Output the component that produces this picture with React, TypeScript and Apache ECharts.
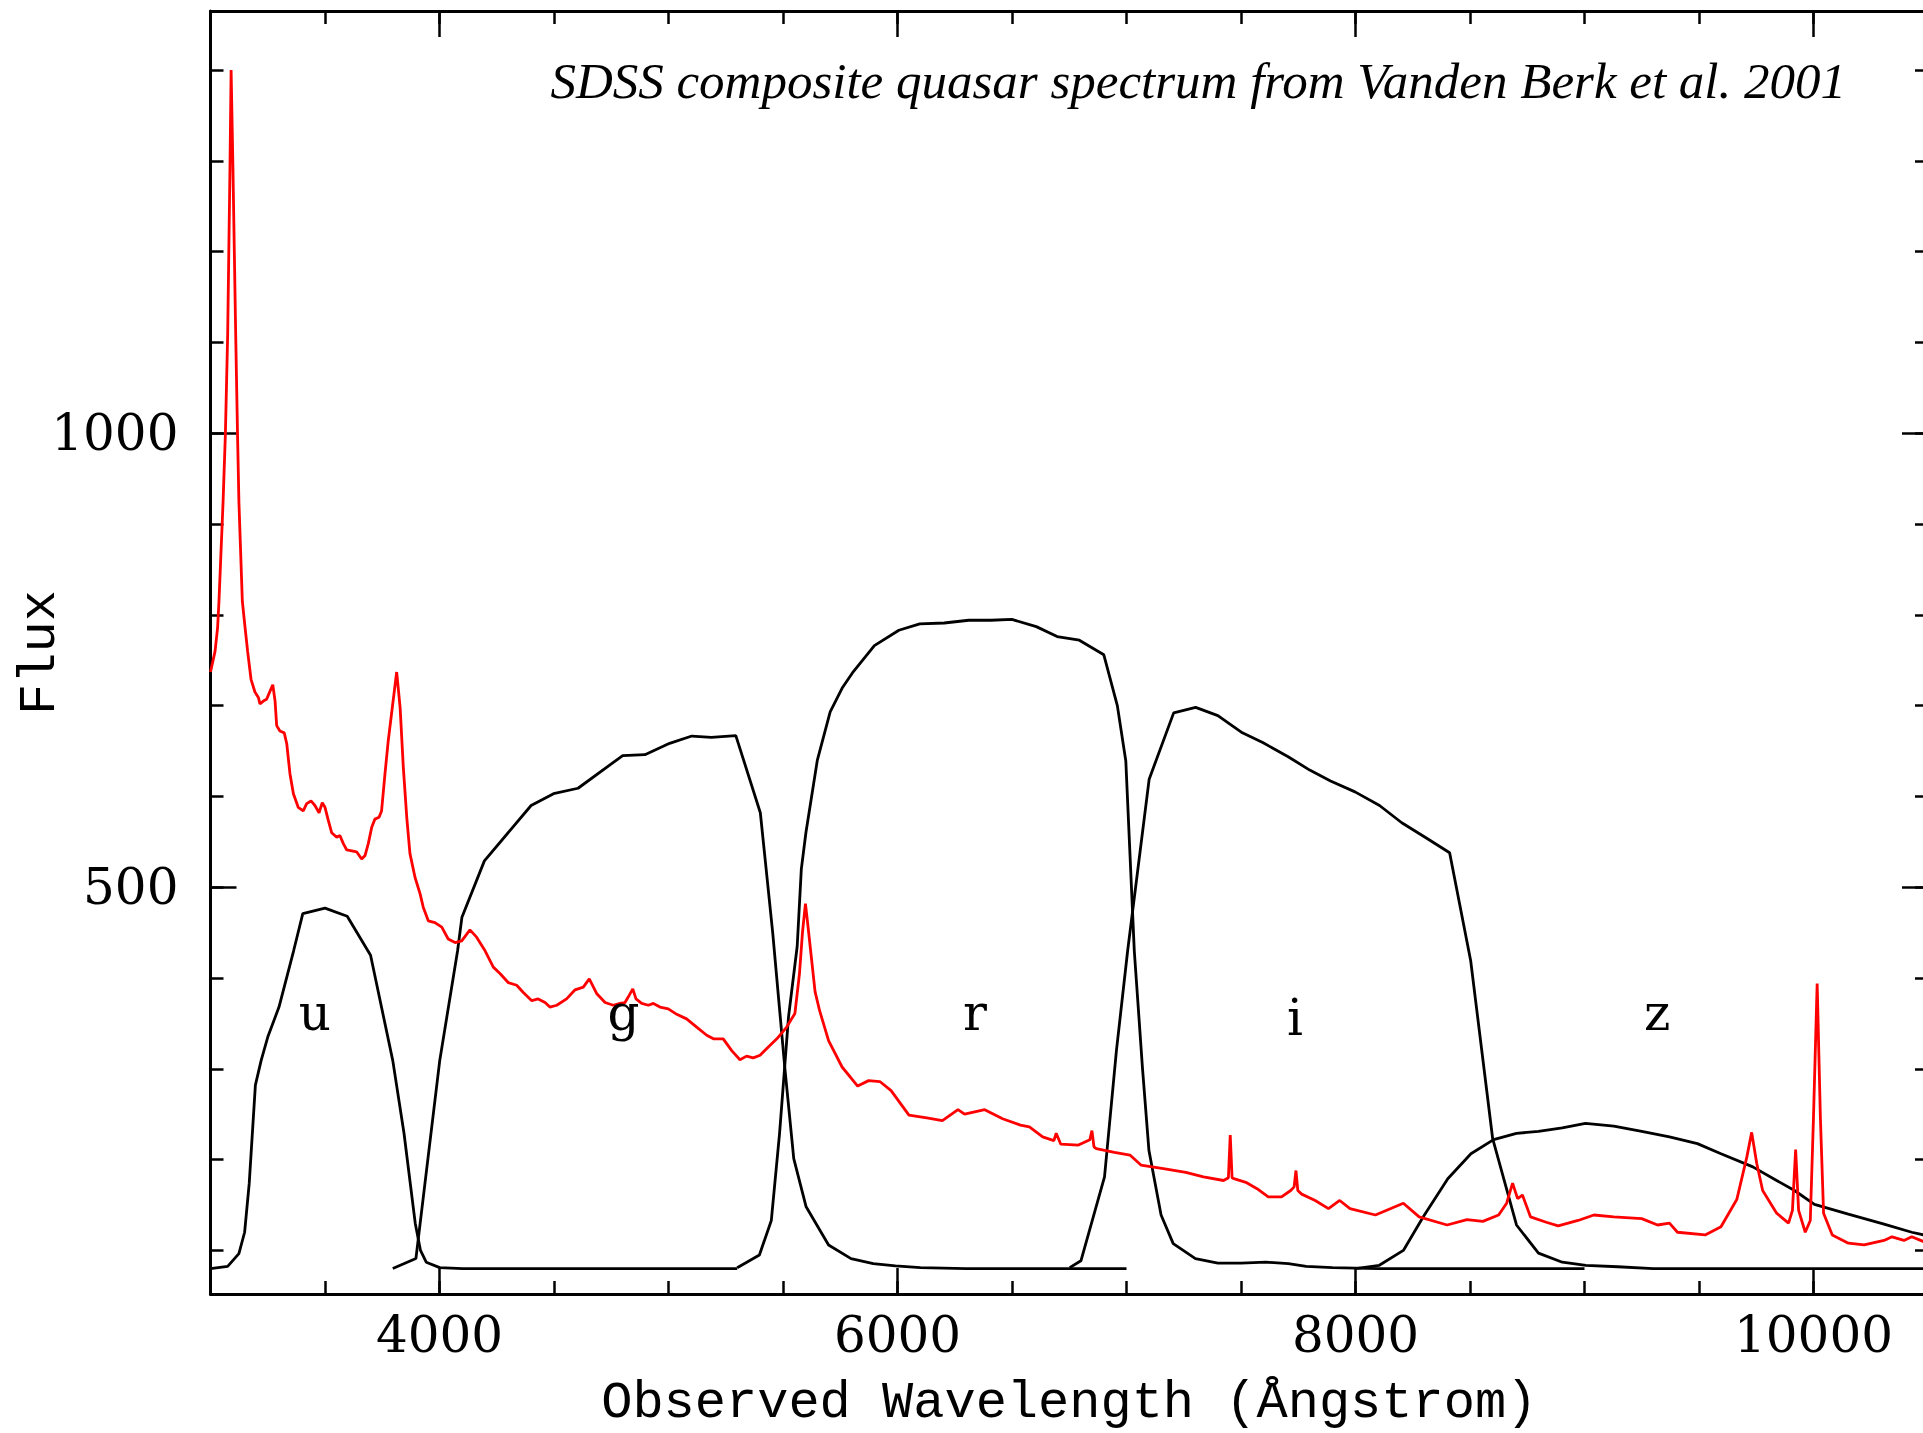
import React, { useEffect, useRef } from "react";
import * as echarts from "echarts";

// ---------- data ----------
const X_MIN = 3000;
const X_MAX = 10500;
const Y_MIN = 52;
const Y_MAX = 1465;

const xMajorTicks = [4000, 6000, 8000, 10000];
const xMinorTicks = [3500, 4000, 4500, 5000, 5500, 6000, 6500, 7000, 7500, 8000, 8500, 9000, 9500, 10000];
const yMajorTicks = [500, 1000];
const yMinorTicks = [100, 200, 300, 400, 500, 600, 700, 800, 900, 1000, 1100, 1200, 1300, 1400];

// composite quasar spectrum [wavelength, flux]
const spectrum = [
  [3000, 737], [3020, 760], [3031, 786], [3037, 815], [3055, 925], [3065, 999], [3075, 1109], [3085, 1292],
  [3090, 1400], [3098, 1292], [3110, 1109], [3118, 999], [3124, 925], [3139, 815], [3151, 786], [3162, 760],
  [3177, 729], [3194, 715], [3209, 709], [3216, 702], [3231, 705], [3245, 707], [3260, 716], [3272, 723],
  [3282, 705], [3289, 678], [3303, 672], [3322, 670], [3333, 658], [3347, 625], [3362, 603], [3383, 588],
  [3405, 584], [3420, 592], [3439, 595], [3456, 590], [3474, 582], [3488, 593], [3500, 588], [3515, 573],
  [3529, 560], [3551, 555], [3565, 557], [3580, 548], [3595, 541], [3617, 540], [3638, 539], [3660, 531],
  [3675, 535], [3689, 548], [3704, 566], [3718, 575], [3736, 577], [3747, 584], [3762, 625], [3776, 661],
  [3794, 698], [3813, 737], [3828, 698], [3842, 632], [3857, 577], [3871, 537], [3893, 511], [3915, 493],
  [3929, 478], [3951, 463], [3980, 461], [4010, 456], [4038, 443], [4068, 439], [4097, 441], [4133, 453],
  [4162, 445], [4199, 430], [4235, 412], [4264, 405], [4300, 395], [4337, 392], [4366, 384], [4403, 375],
  [4431, 377], [4461, 373], [4482, 368], [4512, 370], [4555, 377], [4592, 387], [4628, 390], [4654, 399],
  [4686, 383], [4723, 373], [4759, 370], [4788, 372], [4810, 373], [4824, 379], [4844, 388], [4858, 377],
  [4883, 372], [4912, 370], [4934, 372], [4963, 368], [4999, 366], [5036, 360], [5079, 355], [5123, 346],
  [5167, 337], [5196, 333], [5239, 333], [5276, 320], [5312, 310], [5341, 314], [5370, 312], [5400, 315],
  [5436, 324], [5473, 333], [5516, 346], [5552, 361], [5572, 405], [5585, 450], [5598, 482], [5610, 455],
  [5625, 420], [5640, 385], [5660, 364], [5699, 331], [5758, 302], [5826, 281], [5874, 287], [5923, 286],
  [5972, 276], [6050, 249], [6128, 246], [6196, 243], [6264, 255], [6293, 250], [6381, 255], [6459, 245],
  [6537, 238], [6576, 236], [6634, 225], [6683, 221], [6693, 229], [6713, 217], [6790, 216], [6840, 222],
  [6849, 232], [6858, 214], [6868, 212], [6947, 208], [7015, 205], [7063, 194], [7161, 190], [7259, 186],
  [7336, 181], [7424, 177], [7445, 180], [7453, 227], [7461, 180], [7469, 179], [7521, 175], [7570, 168],
  [7619, 159], [7677, 159], [7717, 166], [7732, 170], [7740, 188], [7748, 166], [7765, 162], [7824, 155],
  [7882, 146], [7931, 155], [7976, 146], [8087, 139], [8209, 152], [8278, 137], [8400, 128], [8487, 134],
  [8556, 132], [8625, 139], [8660, 152], [8686, 174], [8708, 157], [8729, 161], [8764, 137], [8833, 131],
  [8885, 127], [8972, 133], [9041, 139], [9128, 137], [9250, 135], [9319, 128], [9371, 130], [9406, 120],
  [9527, 117], [9596, 126], [9665, 156], [9709, 203], [9730, 230], [9752, 196], [9778, 166], [9839, 141],
  [9891, 130], [9908, 144], [9922, 211], [9935, 144], [9964, 120], [9986, 133], [10000, 247], [10016, 394],
  [10030, 247], [10044, 141], [10082, 117], [10152, 108], [10221, 106], [10308, 111], [10343, 115],
  [10395, 111], [10429, 115], [10478, 110], [10500, 112],
];

// SDSS filter transmission curves (scaled) [wavelength, value]
const uFilter = [
  [3000, 80], [3075, 82.5], [3124, 96.5], [3149, 120], [3169, 173.5], [3196, 282], [3221, 309], [3250, 335],
  [3299, 368], [3363, 430], [3403, 471], [3500, 477], [3597, 468], [3699, 425], [3796, 309], [3845, 229],
  [3894, 130], [3917, 100], [3942, 87], [4001, 81], [4100, 80], [5300, 80],
];
const gFilter = [
  [3796, 80], [3897, 91], [4001, 309], [4079, 430], [4098, 467], [4196, 529], [4400, 590], [4498, 603],
  [4605, 609], [4800, 645], [4897, 646], [5005, 658.5], [5102, 666.5], [5187, 665], [5294, 667], [5401, 582],
  [5455, 450], [5508, 301], [5547, 201], [5601, 148], [5699, 106], [5797, 91], [5894, 85.5], [5991, 83],
  [6100, 81], [6300, 80], [7000, 80],
];
const rFilter = [
  [5300, 81], [5397, 95], [5449, 133], [5485, 229], [5524, 357], [5562, 435], [5580, 520], [5600, 560],
  [5650, 640], [5706, 693], [5760, 720], [5803, 736], [5899, 766], [6006, 783], [6097, 790], [6204, 791],
  [6311, 794], [6408, 794], [6499, 795], [6606, 787], [6697, 776], [6794, 772], [6901, 756], [6960, 700],
  [6997, 639], [7034, 430], [7070, 300], [7098, 210], [7151, 139], [7204, 107.5], [7301, 91], [7399, 86],
  [7500, 86], [7609, 87], [7707, 85.5], [7785, 82.5], [7900, 81], [8100, 80], [9000, 80],
];
const iFilter = [
  [6752, 81], [6801, 88.6], [6904, 181], [6956, 320], [7005, 430], [7099, 619], [7206, 692], [7302, 698],
  [7399, 689], [7506, 670], [7597, 659], [7704, 644], [7800, 629], [7891, 617], [7998, 605], [8105, 590],
  [8202, 571], [8304, 555], [8411, 538], [8503, 419], [8599, 223], [8703, 128], [8799, 97], [8903, 87],
  [9006, 83.6], [9145, 82], [9300, 80], [10500, 80],
];
const zFilter = [
  [8000, 80], [8104, 83.6], [8209, 100], [8296, 137], [8403, 179], [8504, 206.5], [8603, 222], [8703, 229],
  [8799, 231], [8903, 235], [9004, 240], [9128, 237], [9250, 231], [9371, 225], [9493, 217.6], [9596, 206.5],
  [9735, 192], [9839, 177], [9917, 166], [10004, 150.7], [10152, 140], [10308, 129], [10429, 120],
  [10500, 116],
];

const filterNames = ["u", "g", "r", "i", "z"];
const filterLabelLambda = [3456, 4803, 6338, 7736, 9317];
const filterLabelFlux = [361, 361, 361, 356, 361];

const titleText = "SDSS composite quasar spectrum from Vanden Berk et al. 2001";
const xName = "Observed Wavelength (Ångstrom)";
const yName = "Flux";

// ---------- component ----------
const BLACK = "#000000";
const plainNumber = (v: number) => String(v);

function makeX(position: string, ticks: number[], len: number, line: boolean, labels: boolean, named: boolean) {
  return {
    type: "value",
    min: X_MIN,
    max: X_MAX,
    position,
    splitLine: { show: false },
    axisLine: { show: line, onZero: false, lineStyle: { color: BLACK, width: 3 } },
    axisTick: { show: true, inside: true, length: len, customValues: ticks, lineStyle: { color: BLACK, width: 2.5 } },
    axisLabel: labels
      ? {
          show: true,
          customValues: ticks,
          formatter: plainNumber,
          margin: 16,
          fontSize: 50,
          fontFamily: "DejaVu Serif",
          color: BLACK,
        }
      : { show: false },
    name: named ? xName : "",
    nameLocation: "middle",
    nameGap: 83,
    nameMoveOverlap: false,
    nameTextStyle: { fontSize: 52, fontFamily: "Liberation Mono", color: BLACK },
  };
}

function makeY(position: string, ticks: number[], len: number, line: boolean, labels: boolean, named: boolean) {
  return {
    type: "value",
    min: Y_MIN,
    max: Y_MAX,
    position,
    splitLine: { show: false },
    axisLine: { show: line, onZero: false, lineStyle: { color: BLACK, width: 3 } },
    axisTick: { show: true, inside: true, length: len, customValues: ticks, lineStyle: { color: BLACK, width: 2.5 } },
    axisLabel: labels
      ? {
          show: true,
          customValues: ticks,
          formatter: plainNumber,
          margin: 32,
          fontSize: 50,
          fontFamily: "DejaVu Serif",
          color: BLACK,
        }
      : { show: false },
    name: named ? yName : "",
    nameLocation: "middle",
    nameGap: 144,
    nameMoveOverlap: false,
    nameTextStyle: { fontSize: 52, fontFamily: "Liberation Mono", color: BLACK },
  };
}

function filterSeries(name: string, data: number[][]) {
  return {
    name,
    type: "line",
    data,
    showSymbol: false,
    symbol: "none",
    silent: true,
    lineStyle: { color: BLACK, width: 2.8 },
    z: 2,
  };
}

export default function App() {
  const ref = useRef<HTMLDivElement>(null);

  useEffect(() => {
    if (!ref.current) return;
    const chart = echarts.init(ref.current, undefined, { renderer: "svg" });
    const option: any = {
      animation: false,
      backgroundColor: "#ffffff",
      grid: {
        left: 210.5,
        right: 12,
        top: 11,
        bottom: 139,
        containLabel: false,
        outerBoundsMode: "none",
      },
      xAxis: [
        makeX("bottom", xMajorTicks, 26, true, true, true),
        makeX("bottom", xMinorTicks, 13, false, false, false),
        makeX("top", xMajorTicks, 26, true, false, false),
        makeX("top", xMinorTicks, 13, false, false, false),
      ],
      yAxis: [
        makeY("left", yMajorTicks, 26, true, true, true),
        makeY("left", yMinorTicks, 13, false, false, false),
        makeY("right", yMajorTicks, 26, true, false, false),
        makeY("right", yMinorTicks, 13, false, false, false),
      ],
      graphic: [
        {
          type: "text",
          x: 1846,
          y: 80.8,
          silent: true,
          style: {
            text: titleText,
            fontSize: 51,
            fontFamily: "Liberation Serif",
            fontStyle: "italic",
            fill: BLACK,
            align: "right",
            verticalAlign: "middle",
          },
        },
      ],
      series: [
        filterSeries("u", uFilter),
        filterSeries("g", gFilter),
        filterSeries("r", rFilter),
        filterSeries("i", iFilter),
        filterSeries("z", zFilter),
        {
          name: "spectrum",
          type: "line",
          data: spectrum,
          showSymbol: false,
          symbol: "none",
          silent: true,
          lineStyle: { color: "#ff0000", width: 2.8 },
          z: 3,
        },
        {
          name: "filter labels",
          type: "scatter",
          symbolSize: 0,
          silent: true,
          itemStyle: { color: BLACK, opacity: 1 },
          data: filterNames.map((n, k) => ({ name: n, value: [filterLabelLambda[k], filterLabelFlux[k]] })),
          label: {
            show: true,
            position: [0, 0],
            align: "center",
            verticalAlign: "middle",
            formatter: "{b}",
            fontSize: 50,
            fontFamily: "DejaVu Serif",
            color: BLACK,
            opacity: 1,
            textBorderWidth: 0,
          },
          z: 4,
        },
      ],
    };
    chart.setOption(option);
    return () => chart.dispose();
  }, []);

  return (
    <div
      style={{
        position: "fixed",
        left: 0,
        top: 0,
        width: 1923,
        height: 1433,
        overflow: "hidden",
        background: "#fff",
      }}
    >
      <div ref={ref} style={{ width: 1940, height: 1433 }} />
    </div>
  );
}
